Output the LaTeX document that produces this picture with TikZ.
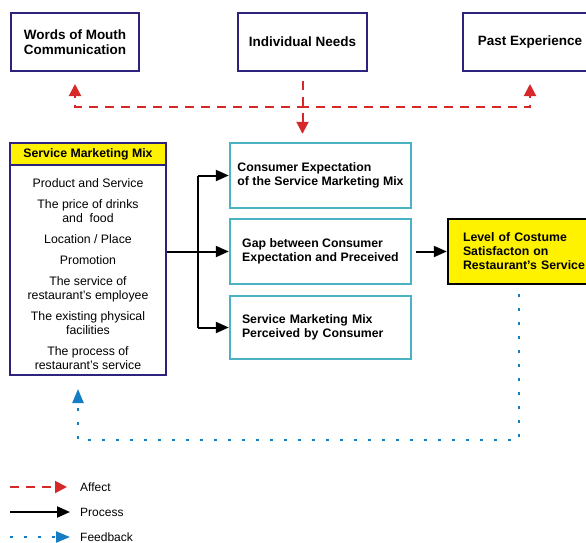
\documentclass[tikz,border=0pt]{standalone}
\usepackage{fontspec}
\setmainfont{Liberation Sans}
\usetikzlibrary{arrows.meta}
\definecolor{navy}{RGB}{45,35,125}
\definecolor{tealline}{RGB}{75,178,196}
\definecolor{affred}{RGB}{214,40,40}
\definecolor{fbblue}{RGB}{20,125,195}
\tikzset{
    topbox/.style={draw=navy,line width=2pt,minimum width=128pt,minimum height=58pt,
        align=center,font=\fontsize{13.5}{15}\selectfont\bfseries},
    midbox/.style={draw=tealline,line width=2.4pt,minimum width=181pt,minimum height=65pt,
        align=left,font=\fontsize{12.3}{14.5}\selectfont\bfseries},
    levelbox/.style={draw=black,fill=yellow,line width=2.4pt,minimum height=65pt,
        text width=130pt,inner xsep=15pt,align=left,font=\fontsize{12.3}{14}\selectfont\bfseries},
    legtext/.style={anchor=west,inner sep=0pt,font=\fontsize{12}{14}\selectfont},
    affect/.style={draw=affred,line width=2pt,dash pattern=on 9pt off 7pt,
        -{Triangle[length=12pt,width=12pt]}},
    process/.style={draw=black,line width=2pt,-{Triangle[length=13pt,width=11pt]}},
    feedback/.style={draw=fbblue,line width=2.2pt,dash pattern=on 3pt off 11pt,
        -{Triangle[length=14pt,width=11pt]}}
}
\begin{document}
\begin{tikzpicture}[x=1pt,y=-1pt]
    \useasboundingbox (0,0) rectangle (586,543);
    % top row
    \node[topbox] (wom) at (75,42) {Words of Mouth\\Communication};
    \node[topbox,minimum width=129pt] (need) at (302.5,42) {Individual Needs};
    \node[topbox,minimum width=134pt] (past) at (530,42) {Past Experience};
    % service marketing mix
    \node[draw=navy,line width=2pt,minimum width=156pt,minimum height=232pt] (smm) at (88,259) {};
    \node[draw=navy,fill=yellow,line width=2pt,minimum width=156pt,minimum height=22pt,
        font=\fontsize{12.3}{14}\selectfont\bfseries] (head) at (88,154) {Service Marketing Mix};
    \node[align=center,font=\fontsize{12.3}{14}\selectfont] (mix) at (88,274.5)
        {Product and Service\\[7pt]
         The price of drinks\\ and\ \ food\\[7pt]
         Location / Place\\[7pt]
         Promotion\\[7pt]
         The service of\\ restaurant’s employee\\[7pt]
         The existing physical\\ facilities\\[7pt]
         The process of\\ restaurant’s service};
    % middle column
    \node[midbox] (exp) at (320.5,175.5) {Consumer Expectation\\of the Service Marketing Mix};
    \node[midbox] (gap) at (320.5,251.5) {Gap between Consumer\\Expectation and Preceived};
    \node[midbox,minimum height=63pt,text width=157pt,inner xsep=12pt] (per) at (320.5,327.5)
        {Service Marketing Mix\\Perceived by Consumer};
    \node[levelbox] (level) at (528,251.5) {Level of Costume\\Satisfacton on\\Restaurant’s Service};
    % affect
    \coordinate (hub) at (302.5,107);
    \draw[affect,shorten <=9pt,shorten >=8pt] (need.south) -- (need.south |- exp.north);
    \draw[affect,shorten >=12pt,dash phase=3pt] (hub) -| (wom.south);
    \draw[affect,shorten >=12pt,dash phase=3pt] (hub) -| (past.south);
    % process
    \coordinate (split) at (198,251.5);
    \draw[process,-] (smm.east |- split) -- (split);
    \draw[process,-] (split |- exp) -- (split |- per);
    \draw[process] (split |- exp) -- (exp.west);
    \draw[process] (split) -- (gap.west);
    \draw[process] (split |- per) -- (per.west);
    \draw[process,shorten <=4pt] (gap.east) -- (level.west);
    % feedback
    \coordinate (fbr) at (519,440);
    \coordinate (fbl) at (78,440);
    \draw[feedback,shorten <=9pt,shorten >=13pt] (fbr |- level.south) -- (fbr) -- (fbl) -- (fbl |- smm.south);
    % legend
    \node[legtext] (laff) at (80,487) {Affect};
    \node[legtext] (lpro) at (80,512) {Process};
    \node[legtext] (lfb) at (80,537) {Feedback};
    \coordinate (l1) at (10,487);
    \coordinate (l2) at (10,512);
    \coordinate (l3) at (10,537);
    \draw[affect] (l1) -- ([xshift=-13pt]laff.west);
    \draw[process] (l2) -- ([xshift=-10pt]lpro.west);
    \draw[feedback] (l3) -- ([xshift=-10pt]lfb.west);
\end{tikzpicture}
\end{document}
